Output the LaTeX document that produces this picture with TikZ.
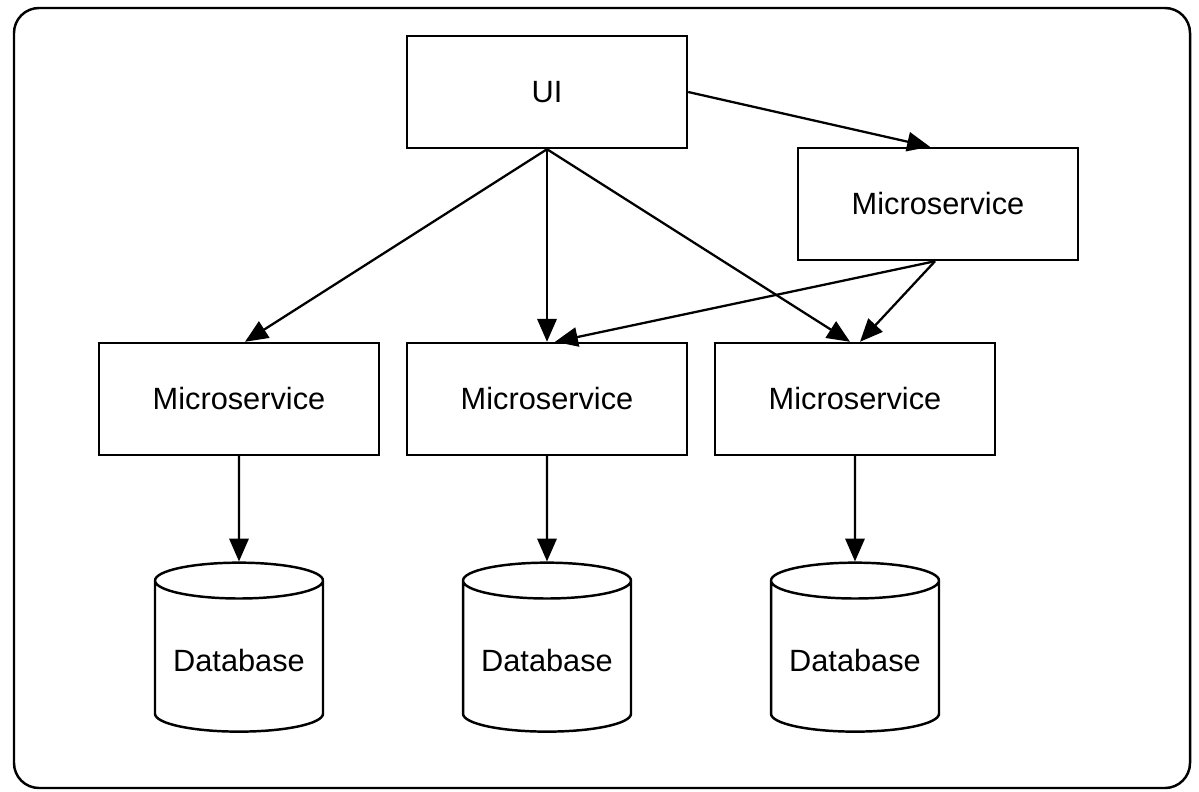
\documentclass[tikz,border=0pt]{standalone}
\usepackage{fontspec}
\setmainfont{Liberation Sans}
\usetikzlibrary{shapes,arrows.meta,calc,positioning}

\begin{document}
\begin{tikzpicture}[x=0.02cm,y=-0.02cm,
  box/.style={draw, line width=1.4pt, minimum width=5.6cm, minimum height=2.24cm,
    font=\fontsize{17.5}{20}\selectfont},
  db/.style={draw, line width=1.4pt, cylinder, shape border rotate=90, aspect=0.25,
    minimum width=3.36cm, minimum height=3.38cm, font=\fontsize{17.5}{20}\selectfont},
  arr/.style={-{Triangle[length=13pt,width=11pt]}, line width=1.3pt}]
  \useasboundingbox (0,0) rectangle (1199,791);
  \draw [line width=1.4pt, rounded corners=0.5cm] (14,8) rectangle (1190,788);

  \node [box] (UI) at (547,92) {UI};
  \node [box] (M0) at (938,204) {Microservice};

  \node [box] (M1) at (239,399) {Microservice};
  \node [box] (M2) at (547,399) {Microservice};
  \node [box] (M3) at (855,399) {Microservice};

  \node [db] (D1) at (239,660) {Database};
  \node [db] (D2) at (547,660) {Database};
  \node [db] (D3) at (855,660) {Database};

  \draw [arr] (UI.east) -- ([xshift=-0.16cm]M0.north);
  \draw [arr] (UI.south) -- ([xshift=0.12cm]M1.north);
  \draw [arr] (UI.south) -- (M2.north);
  \draw [arr] (UI.south) -- ([xshift=-0.1cm]M3.north);
  \draw [arr] ([xshift=-0.06cm]M0.south) -- ([xshift=0.16cm]M2.north);
  \draw [arr] ([xshift=-0.06cm]M0.south) -- ([xshift=0.1cm]M3.north);

  \draw [arr] (M1) -- (D1);
  \draw [arr] (M2) -- (D2);
  \draw [arr] (M3) -- (D3);
\end{tikzpicture}
\end{document}
